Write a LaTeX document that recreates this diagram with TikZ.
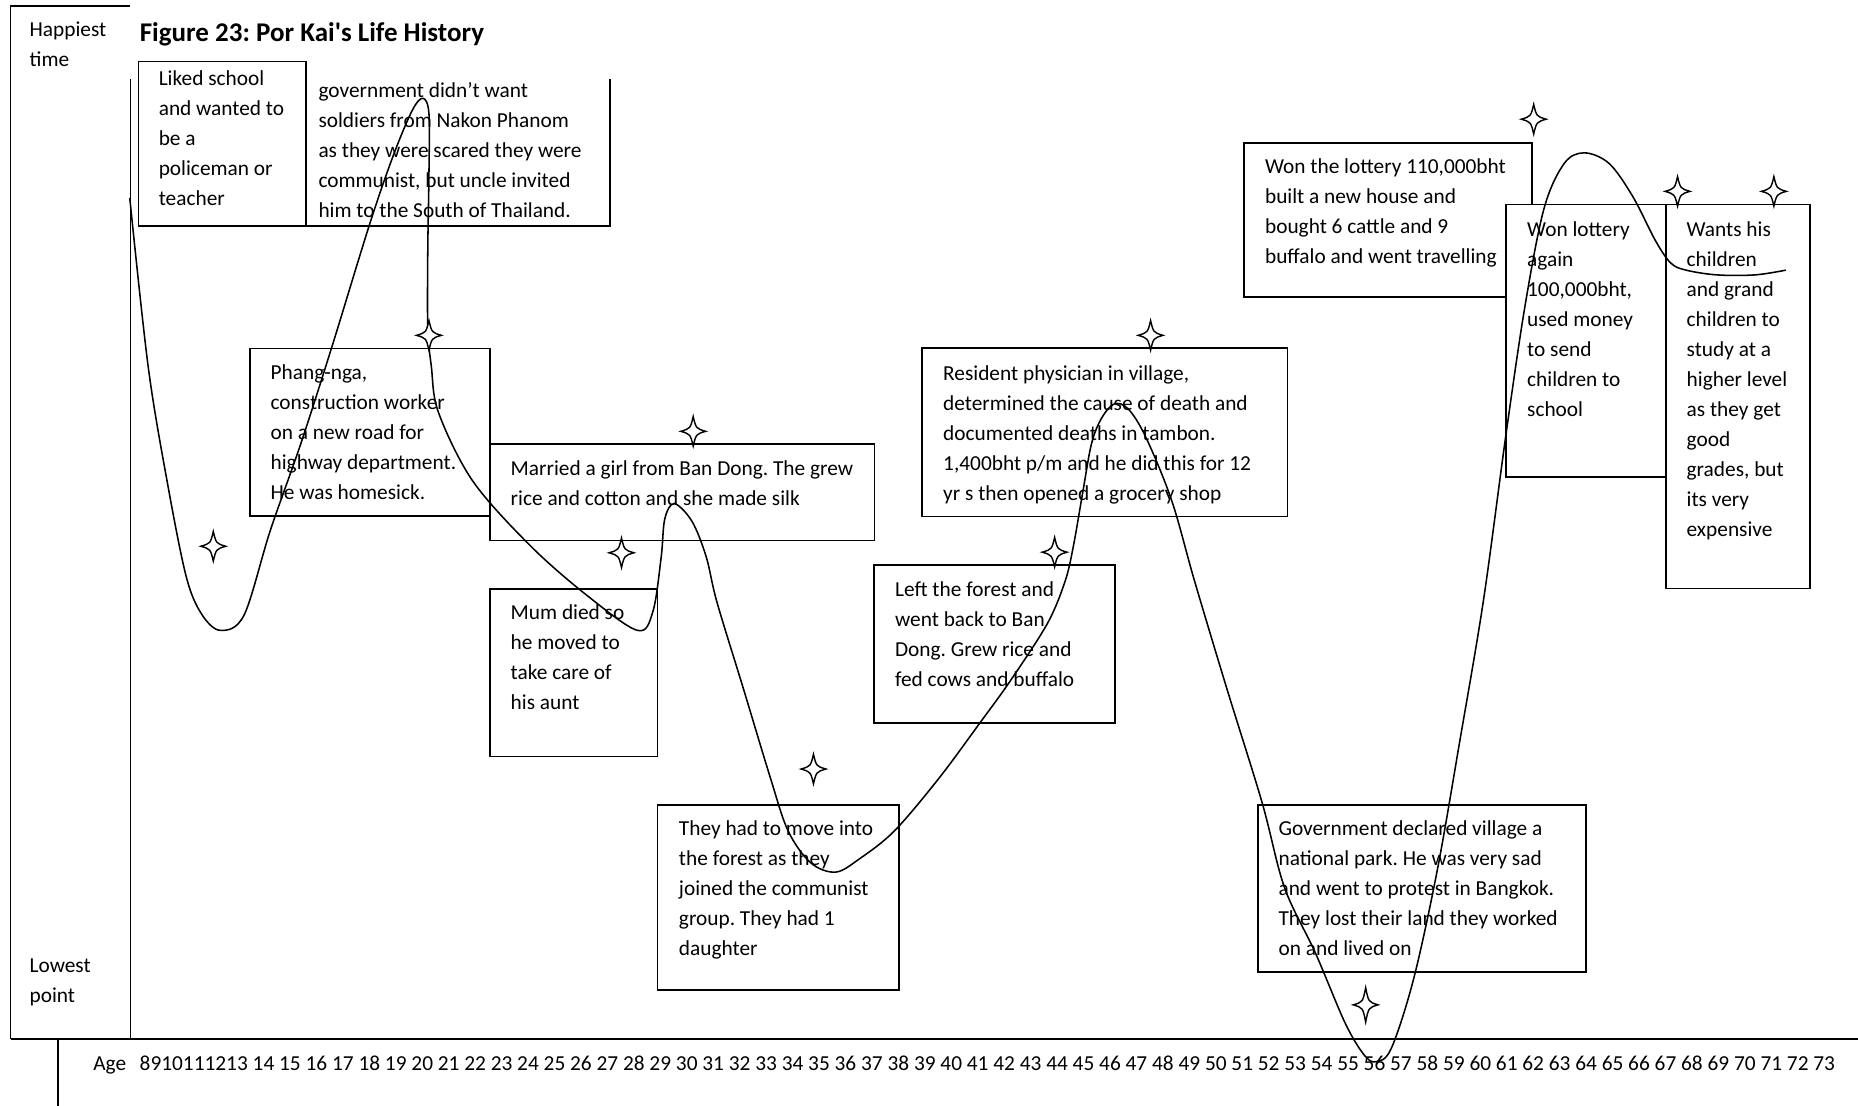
\documentclass[tikz,border=0pt]{standalone}
\usepackage{fontspec}
\setmainfont{Carlito}
\begin{document}
\frenchspacing
\begin{tikzpicture}[x=1pt,y=-1pt,
  boxst/.style={draw, line width=1.4pt, fill=white, inner sep=0pt, outer sep=0pt, anchor=north west},
  txt/.style={inner sep=0pt, outer sep=0pt, anchor=base west, text width=330pt, text justified, font=\fontsize{18}{25.3}\selectfont\frenchspacing},
  ttl/.style={inner sep=0pt, outer sep=0pt, anchor=base west, font=\fontsize{22.8}{28}\selectfont\bfseries\frenchspacing},
  agest/.style={inner sep=0pt, outer sep=0pt, anchor=base west, font=\fontsize{18}{25.3}\selectfont\frenchspacing},
  framest/.style={line width=1.3pt},
  lifecurve/.style={line width=1.3pt},
  fourstar/.pic={\draw[line width=1.2pt, fill=white] (0,-12.5) .. controls (2.4,-2.4) .. (10.5,0) .. controls (2.4,2.4) .. (0,12.5) .. controls (-2.4,2.4) .. (-10.5,0) .. controls (-2.4,-2.4) .. (0,-12.5) -- cycle;},
  tallstar/.pic={\draw[line width=1.2pt, fill=white] (0,-14.5) .. controls (2.4,-2.4) .. (10.5,0) .. controls (2.4,2.4) .. (0,14.5) .. controls (-2.4,2.4) .. (-10.5,0) .. controls (-2.4,-2.4) .. (0,-14.5) -- cycle;}
]
\useasboundingbox (0,0) rectangle (1568,933);

% frame
\draw[framest] (110,5) -- (9,5) -- (9,877);
\draw[framest] (9,877) -- (1568,877);
\draw[framest] (110,67) -- (110,877);
\draw[framest] (49,877) -- (49,933);

% axis labels and title
\node[txt] (happy) at (25,31) {Happiest\\time};
\node[txt] (lowest) at (25,821) {Lowest\\point};
\node[ttl] (title) at (118,35) {Figure 23: Por Kai\textquotesingle s Life History};
\node[agest] (age) at (78.8,903) {Age\hspace{11.4pt}8910111213\hspace{4.1pt}\makebox[1335pt][s]{14 15 16 17 18 19 20 21 22 23 24 25 26 27 28 29 30 31 32 33 34 35 36 37 38 39 40 41 42 43 44 45 46 47 48 49 50 51 52 53 54 55 56 57 58 59 60 61 62 63 64 65 66 67 68 69 70 71 72 73}};

% boxes
\node[boxst, minimum width=141pt, minimum height=139pt] (b1) at (117,52) {};
\draw[line width=1.4pt] (258,191) -- (515,191) -- (515,67);
\node[boxst, minimum width=202.4pt, minimum height=141.5pt] (b3) at (211,294) {};
\node[boxst, minimum width=324.6pt, minimum height=81.5pt] (b4) at (413.4,374.5) {};
\node[boxst, minimum width=141.6pt, minimum height=141.3pt] (b5) at (413.4,497) {};
\node[boxst, minimum width=203.4pt, minimum height=156.3pt] (b6) at (555,679.3) {};
\node[boxst, minimum width=203.3pt, minimum height=133.2pt] (b7) at (737.7,476.8) {};
\node[boxst, minimum width=308.4pt, minimum height=142.4pt] (b8) at (778,293.6) {};
\node[boxst, minimum width=276.7pt, minimum height=140.7pt] (b9) at (1061.5,679.5) {};
\node[boxst, minimum width=242.7pt, minimum height=129.9pt] (b10) at (1050,120.6) {};
\node[boxst, minimum width=134.7pt, minimum height=229.9pt] (b11) at (1271,172.6) {};
\node[boxst, minimum width=121.8pt, minimum height=324pt] (b12) at (1405.7,172.6) {};

% texts
\node[txt] (t1) at (134,72) {Liked school\\and wanted to\\be a\\policeman or\\teacher};
\node[txt] (t2) at (268.8,82.3) {government didn’t want\\soldiers from Nakon Phanom\\as they were scared they were\\communist, but uncle invited\\him to the South of Thailand.};
\node[txt] (t3) at (228.4,320.2) {Phang-nga,\\construction worker\\on a new road for\\highway department.\\He was homesick.};
\node[txt] (t4) at (431,401) {Married a girl from Ban Dong. The grew\\rice and cotton and she made silk};
\node[txt] (t5) at (431,522.7) {Mum died so\\he moved to\\take care of\\his aunt};
\node[txt] (t6) at (573,705.5) {They had to move into\\the forest as they\\joined the communist\\group. They had 1\\daughter};
\node[txt] (t7) at (755.4,503.3) {Left the forest and\\went back to Ban\\Dong. Grew rice and\\fed cows and buffalo};
\node[txt] (t8) at (796,320.8) {Resident physician in village,\\determined the cause of death and\\documented deaths in tambon.\\1,400bht p/m and he did this for 12\\yr s then opened a grocery shop};
\node[txt] (t9) at (1079,705.5) {Government declared village a\\national park. He was very sad\\and went to protest in Bangkok.\\They lost their land they worked\\on and lived on};
\node[txt] (t10) at (1067.6,146.6) {Won the lottery 110,000bht\\built a new house and\\bought 6 cattle and 9\\buffalo and went travelling};
\node[txt] (t11) at (1288.8,199.6) {Won lottery\\again\\100,000bht,\\used money\\to send\\children to\\school};
\node[txt] (t12) at (1423.4,199.6) {Wants his\\children\\and grand\\children to\\study at a\\higher level\\as they get\\good\\grades, but\\its very\\expensive};

% life curve
\draw[lifecurve] plot[smooth, tension=0.55] coordinates {
(109.5,167) (125,309) (141,406) (157,486) (170,518) (186,532) (206,519) (228,448) (254,374) (280,293) (312,189) (332,131) (348,93) (357,83)
(362,96) (362,147) (361,212) (361,277) (364,309) (370,348) (399,406) (448,461) (496,503) (538,532)
(551,516) (558,470) (561,438) (569,425) (584,440) (596,470) (605,508) (627,580) (650,656) (665,701) (684,728) (705,736)
(725,725) (755,701) (793,656) (827,610) (853,574) (884,526) (899,490) (906,460) (914,414) (921,375) (929,354) (940,341)
(952,345) (967,369) (989,423) (1008,490) (1035,580) (1065,677) (1084,749) (1110,804) (1135,863) (1151,890) (1161,896)
(1174,885) (1193,826) (1213,734) (1232,625) (1252,506) (1271,366) (1287,258) (1303,176) (1320,138) (1337,129)
(1358,138) (1378,166) (1397,203) (1410,222) (1423,228) (1449,232) (1481,232) (1507,228)};

% stars
\pic at (180,461) {fourstar};
\pic at (362,283) {fourstar};
\pic at (585,364) {fourstar};
\pic at (524.5,466.5) {fourstar};
\pic at (686.5,649) {fourstar};
\pic at (890,466) {fourstar};
\pic at (971,283) {fourstar};
\pic at (1294.3,100.6) {fourstar};
\pic at (1415.7,161.5) {fourstar};
\pic at (1497,161.5) {fourstar};
\pic at (1152.5,848) {tallstar};
\end{tikzpicture}
\end{document}
